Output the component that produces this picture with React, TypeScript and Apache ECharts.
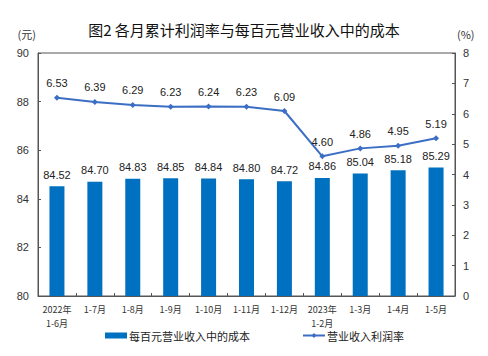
import React, { useEffect, useRef } from "react";
import * as echarts from "echarts";

const categories = ["2022年\n1-6月", "1-7月", "1-8月", "1-9月", "1-10月", "1-11月", "1-12月", "2023年\n1-2月", "1-3月", "1-4月", "1-5月"];
const costValues = [84.52, 84.7, 84.83, 84.85, 84.84, 84.8, 84.72, 84.86, 85.04, 85.18, 85.29];
const profitRate = [6.53, 6.39, 6.29, 6.23, 6.24, 6.23, 6.09, 4.6, 4.86, 4.95, 5.19];
const leftTicks = { min: 80, max: 90, interval: 2 };
const rightTicks = { min: 0, max: 8, interval: 1 };

const FONT = "'Liberation Sans', 'Noto Sans CJK SC', sans-serif";
const CJK = "'Noto Sans CJK SC', sans-serif";

export default function App() {
  const ref = useRef<HTMLDivElement>(null);
  useEffect(() => {
    const chart = echarts.init(ref.current!, null, { renderer: "svg" });
    chart.setOption({
      animation: false,
      backgroundColor: "#fff",
      title: {
        text: "图2 各月累计利润率与每百元营业收入中的成本",
        left: "center",
        top: 17,
        textStyle: { fontFamily: CJK, fontSize: 15, fontWeight: "normal", color: "#111" },
      },
      grid: { left: 38, right: 33, top: 53, bottom: 60, show: true, borderColor: "#555", borderWidth: 1 },
      legend: {
        bottom: 10,
        left: 100,
        itemGap: 52,
        itemWidth: 22,
        itemHeight: 6,
        textStyle: { fontFamily: CJK, fontSize: 11, color: "#222", padding: [0, 0, 0, -3] },
        data: [
          { name: "每百元营业收入中的成本", icon: "rect" },
          { name: "营业收入利润率" },
        ],
      },
      xAxis: {
        type: "category",
        data: categories,
        axisLine: { lineStyle: { color: "#555" } },
        axisTick: { show: true, inside: true, length: 3, lineStyle: { color: "#555" } },
        axisLabel: { fontFamily: CJK, fontSize: 9, color: "#333", margin: 6, lineHeight: 14, interval: 0 },
      },
      yAxis: [
        {
          type: "value",
          min: leftTicks.min,
          max: leftTicks.max,
          interval: leftTicks.interval,
          name: "(元)",
          nameGap: 14,
          nameTextStyle: { fontFamily: CJK, fontSize: 11, color: "#333", align: "right", padding: [0, 2, 0, 0] },
          axisLine: { show: true, lineStyle: { color: "#555" } },
          axisTick: { show: true, inside: true, length: 3, lineStyle: { color: "#555" } },
          splitLine: { show: false },
          axisLabel: { fontFamily: FONT, fontSize: 11, color: "#333", margin: 9 },
        },
        {
          type: "value",
          min: rightTicks.min,
          max: rightTicks.max,
          interval: rightTicks.interval,
          name: "(%)",
          nameGap: 14,
          nameTextStyle: { fontFamily: CJK, fontSize: 11, color: "#333", align: "left", padding: [0, 0, 0, 2] },
          axisLine: { show: true, lineStyle: { color: "#555" } },
          axisTick: { show: true, inside: true, length: 3, lineStyle: { color: "#555" } },
          splitLine: { show: false },
          axisLabel: { fontFamily: FONT, fontSize: 11, color: "#333", margin: 8 },
        },
      ],
      series: [
        {
          name: "每百元营业收入中的成本",
          type: "bar",
          data: costValues,
          barWidth: 15,
          itemStyle: { color: "#0070C0" },
          label: {
            show: true,
            position: "top",
            distance: 6,
            formatter: (p: any) => p.value.toFixed(2),
            fontFamily: FONT,
            fontSize: 11,
            color: "#222",
          },
        },
        {
          name: "营业收入利润率",
          type: "line",
          yAxisIndex: 1,
          data: profitRate,
          symbol: "diamond",
          symbolSize: 6,
          lineStyle: { color: "#3C6FC4", width: 2 },
          itemStyle: { color: "#3C6FC4" },
          label: {
            show: true,
            position: "top",
            distance: 6,
            formatter: (p: any) => p.value.toFixed(2),
            fontFamily: FONT,
            fontSize: 11,
            color: "#222",
          },
        },
      ],
    });
    return () => chart.dispose();
  }, []);
  return <div ref={ref} style={{ width: 488, height: 356, position: "absolute", left: 0, top: 0 }} />;
}
